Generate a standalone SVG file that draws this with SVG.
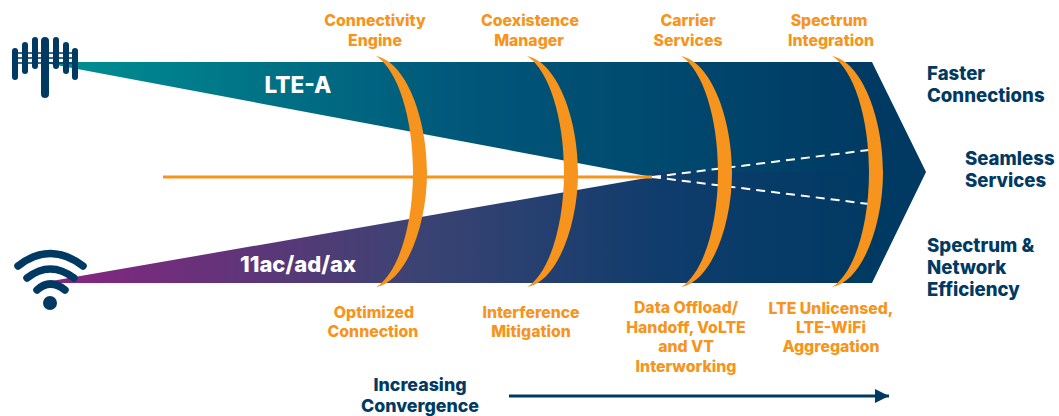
<svg xmlns="http://www.w3.org/2000/svg" width="1059" height="416" viewBox="0 0 1059 416">
<style>
text{font-family:Inter,"Liberation Sans",sans-serif;font-weight:800;text-anchor:middle}
.o{fill:#f7941d;font-size:15.8px}
.n{fill:#003a63;font-size:18.6px}
.c{fill:#003a63;font-size:17.8px}
.s{text-anchor:start}
.l{fill:#f7941d}
.b{fill:#003a63}
.w{fill:none;stroke:#003a63;stroke-width:7.5;stroke-linecap:round}
.d{fill:none;stroke:#fff;stroke-width:2;stroke-dasharray:9 6}
</style>
<defs>
<linearGradient id="gt" gradientUnits="userSpaceOnUse" x1="40" y1="0" x2="872" y2="0"><stop offset="0" stop-color="#009194"/><stop offset=".5" stop-color="#00587a"/><stop offset="1" stop-color="#003a63"/></linearGradient>
<linearGradient id="gb" gradientUnits="userSpaceOnUse" x1="40" y1="0" x2="872" y2="0"><stop offset="0" stop-color="#8a2480"/><stop offset=".45" stop-color="#3c4373"/><stop offset=".75" stop-color="#0f3c6c"/><stop offset="1" stop-color="#003a63"/></linearGradient>
<marker id="ah" markerUnits="userSpaceOnUse" markerWidth="15" markerHeight="15" refX="14" refY="7.5" orient="auto"><path d="M0 .5L14 7.5L0 14.5Z" fill="#003a63"/></marker>
</defs>
<g id="shapes">
<path id="band-top" d="M40 62H872L926 172H652V177Z" fill="url(#gt)"/>
<path id="band-bottom" d="M40 283H872L926 172H652V177Z" fill="url(#gb)"/>
</g>
<g id="connectors">
<path d="M163 177H652" fill="none" stroke="#f7941d" stroke-width="3"/>
<path class="d" d="M652 177L869 150"/>
<path class="d" d="M652 177L869 204"/>
<path d="M509 396H889" fill="none" stroke="#003a63" stroke-width="3" marker-end="url(#ah)"/>
</g>
<g id="lens-1"><path class="l" d="M376 56C406 62 427 118 427 172C427 226 406 282 376 287C398 274 413 226 413 172C413 118 398 70 376 56Z"/></g>
<g id="lens-2"><path class="l" d="M527 56C557 62 578 118 578 172C578 226 557 282 527 287C549 274 564 226 564 172C564 118 549 70 527 56Z"/></g>
<g id="lens-3"><path class="l" d="M681 56C711 62 732 118 732 172C732 226 711 282 681 287C703 274 718 226 718 172C718 118 703 70 681 56Z"/></g>
<g id="lens-4"><path class="l" d="M832 56C862 62 883 118 883 172C883 226 862 282 832 287C854 274 869 226 869 172C869 118 854 70 832 56Z"/></g>
<g id="tower">
<path d="M15 53H75M15 58H75M15 63H75" stroke="#003a63" stroke-width="1.5"/>
<rect class="b" x="12" y="48" width="6" height="32" rx="3"/>
<rect class="b" x="22" y="42" width="6" height="32" rx="3"/>
<rect class="b" x="32" y="37" width="6" height="32" rx="3"/>
<rect class="b" x="41" y="37" width="8" height="61" rx="4"/>
<rect class="b" x="53" y="37" width="6" height="32" rx="3"/>
<rect class="b" x="63" y="42" width="6" height="32" rx="3"/>
<rect class="b" x="72" y="48" width="6" height="32" rx="3"/>
</g>
<g id="wifi">
<path class="w" d="M18 266Q50 241 83 266"/>
<path class="w" d="M27 278Q50 260 74 278"/>
<path class="w" d="M37 290Q50 278 65 290"/>
<circle class="b" cx="50" cy="303" r="7"/>
</g>
<g id="labels">
<text x="298" y="93" fill="#fff" font-size="22.5">LTE-A</text>
<text x="298" y="272" fill="#fff" font-size="22">11ac/ad/ax</text>
<text class="o" x="375" y="26">Connectivity</text><text class="o" x="375" y="46">Engine</text>
<text class="o" x="530" y="26">Coexistence</text><text class="o" x="529" y="46">Manager</text>
<text class="o" x="688" y="26">Carrier</text><text class="o" x="688" y="46">Services</text>
<text class="o" x="829" y="26">Spectrum</text><text class="o" x="831" y="46">Integration</text>
<text class="o" x="374" y="318">Optimized</text><text class="o" x="373" y="337">Connection</text>
<text class="o" x="531" y="318">Interference</text><text class="o" x="531" y="337">Mitigation</text>
<text class="o" x="686" y="313">Data Offload/</text><text class="o" x="686" y="333">Handoff, VoLTE</text><text class="o" x="686" y="352">and VT</text><text class="o" x="686" y="372">Interworking</text>
<text class="o" x="831" y="314">LTE Unlicensed,</text><text class="o" x="831" y="333">LTE-WiFi</text><text class="o" x="831" y="352">Aggregation</text>
<text class="n s" x="927" y="80">Faster</text><text class="n s" x="927" y="102">Connections</text>
<text class="n s" x="965" y="165">Seamless</text><text class="n s" x="965" y="187">Services</text>
<text class="n s" x="927" y="252">Spectrum &amp;</text><text class="n s" x="927" y="274">Network</text><text class="n s" x="927" y="296">Efficiency</text>
<text class="c" x="420" y="391">Increasing</text><text class="c" x="420" y="412">Convergence</text>
</g>
</svg>
